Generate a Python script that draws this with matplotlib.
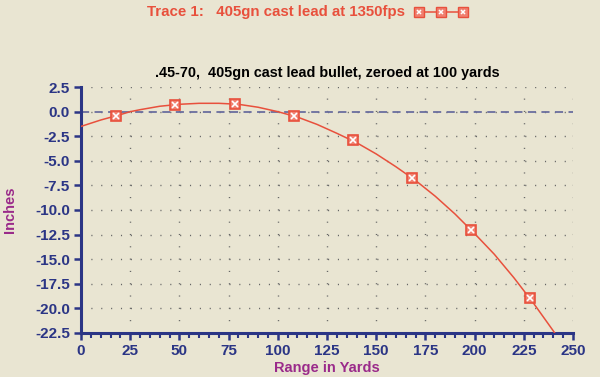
import numpy as np
import matplotlib.pyplot as plt
from matplotlib.lines import Line2D
from matplotlib.ticker import MultipleLocator

# trajectory curve (range in yards, drop in inches)
rng = [0, 10, 20, 25, 30, 40, 50, 60, 70, 80, 90, 100, 110, 120, 130, 140,
       150, 160, 170, 180, 190, 200, 210, 220, 230, 240, 245]
drop = [-1.5, -0.85, -0.3, 0.0, 0.2, 0.55, 0.75, 0.85, 0.85, 0.75, 0.45, 0.0,
        -0.55, -1.3, -2.2, -3.15, -4.3, -5.6, -7.0, -8.6, -10.4, -12.4,
        -14.5, -16.9, -19.5, -22.3, -23.8]

# marker points
mk_rng = [18, 48, 78, 108, 138, 168, 198, 228]
mk_drop = [-0.4, 0.7, 0.8, -0.4, -2.9, -6.7, -12.0, -19.0]

bg = '#E9E5D2'
navy = '#2B3585'
red = '#E8503C'
purple = '#9A2A8A'

plt.rcParams['font.family'] = ['Liberation Sans', 'DejaVu Sans']

fig = plt.figure(figsize=(6, 3.77), dpi=100, facecolor=bg)
ax = fig.add_axes([0.135, 0.117, 0.82, 0.652], facecolor=bg)

# dotted grid
ax.grid(axis='y', which='major', color='#666666', linewidth=1.0,
        dashes=(0.8, 6.3))
ax.grid(axis='x', which='major', color='#666666', linewidth=1.0,
        dashes=(0.8, 8.06))

ax.axhline(0, color='#6A6E9E', linewidth=1.3, dashes=(4.5, 3.0), zorder=2)

ax.plot(rng, drop, color=red, linewidth=1.1, zorder=3)
ax.plot(mk_rng, mk_drop, linestyle='none', marker='s', markersize=7.5,
        markerfacecolor='#F08070', markeredgecolor=red, markeredgewidth=1.2,
        zorder=4)
ax.plot(mk_rng, mk_drop, linestyle='none', marker='x', markersize=3.8,
        markeredgecolor='white', markeredgewidth=1.2, zorder=5)

ax.set_xlim(0, 250)
ax.set_ylim(-22.5, 2.5)
ax.xaxis.set_major_locator(MultipleLocator(25))
ax.xaxis.set_minor_locator(MultipleLocator(5))
ax.yaxis.set_major_locator(MultipleLocator(2.5))
ax.yaxis.set_major_formatter(plt.FormatStrFormatter('%.1f'))

for s in ['top', 'right']:
    ax.spines[s].set_visible(False)
for s in ['left', 'bottom']:
    ax.spines[s].set_color(navy)
    ax.spines[s].set_linewidth(2.2)

ax.tick_params(which='major', colors=navy, length=5, width=1.8,
               labelsize=11, pad=3)
ax.tick_params(axis='x', which='minor', colors=navy, length=3.5, width=1.5)
for lab in ax.get_xticklabels() + ax.get_yticklabels():
    lab.set_fontweight('bold')

ax.set_xlabel('Range in Yards', color=purple, fontweight='bold',
              fontsize=10.5, labelpad=2)
ax.set_ylabel('Inches', color=purple, fontweight='bold', fontsize=10.5,
              labelpad=13)
ax.set_title('.45-70,  405gn cast lead bullet, zeroed at 100 yards',
             fontsize=10.4, fontweight='bold', color='black', pad=7)

fig.text(0.245, 0.968, 'Trace 1:   405gn cast lead at 1350fps', color=red,
         fontsize=10.8, fontweight='bold', ha='left', va='center')
fig.add_artist(Line2D([0.698, 0.735, 0.772], [0.968, 0.968, 0.968],
                      color=red, linewidth=1.1, marker='s', markersize=7,
                      markerfacecolor='#F08070', markeredgecolor=red,
                      transform=fig.transFigure))
fig.add_artist(Line2D([0.698, 0.735, 0.772], [0.968, 0.968, 0.968],
                      linestyle='none', marker='x', markersize=3.5,
                      markeredgecolor='white', markeredgewidth=1.1,
                      transform=fig.transFigure))

fig.savefig('out.png', dpi=100, facecolor=bg)
